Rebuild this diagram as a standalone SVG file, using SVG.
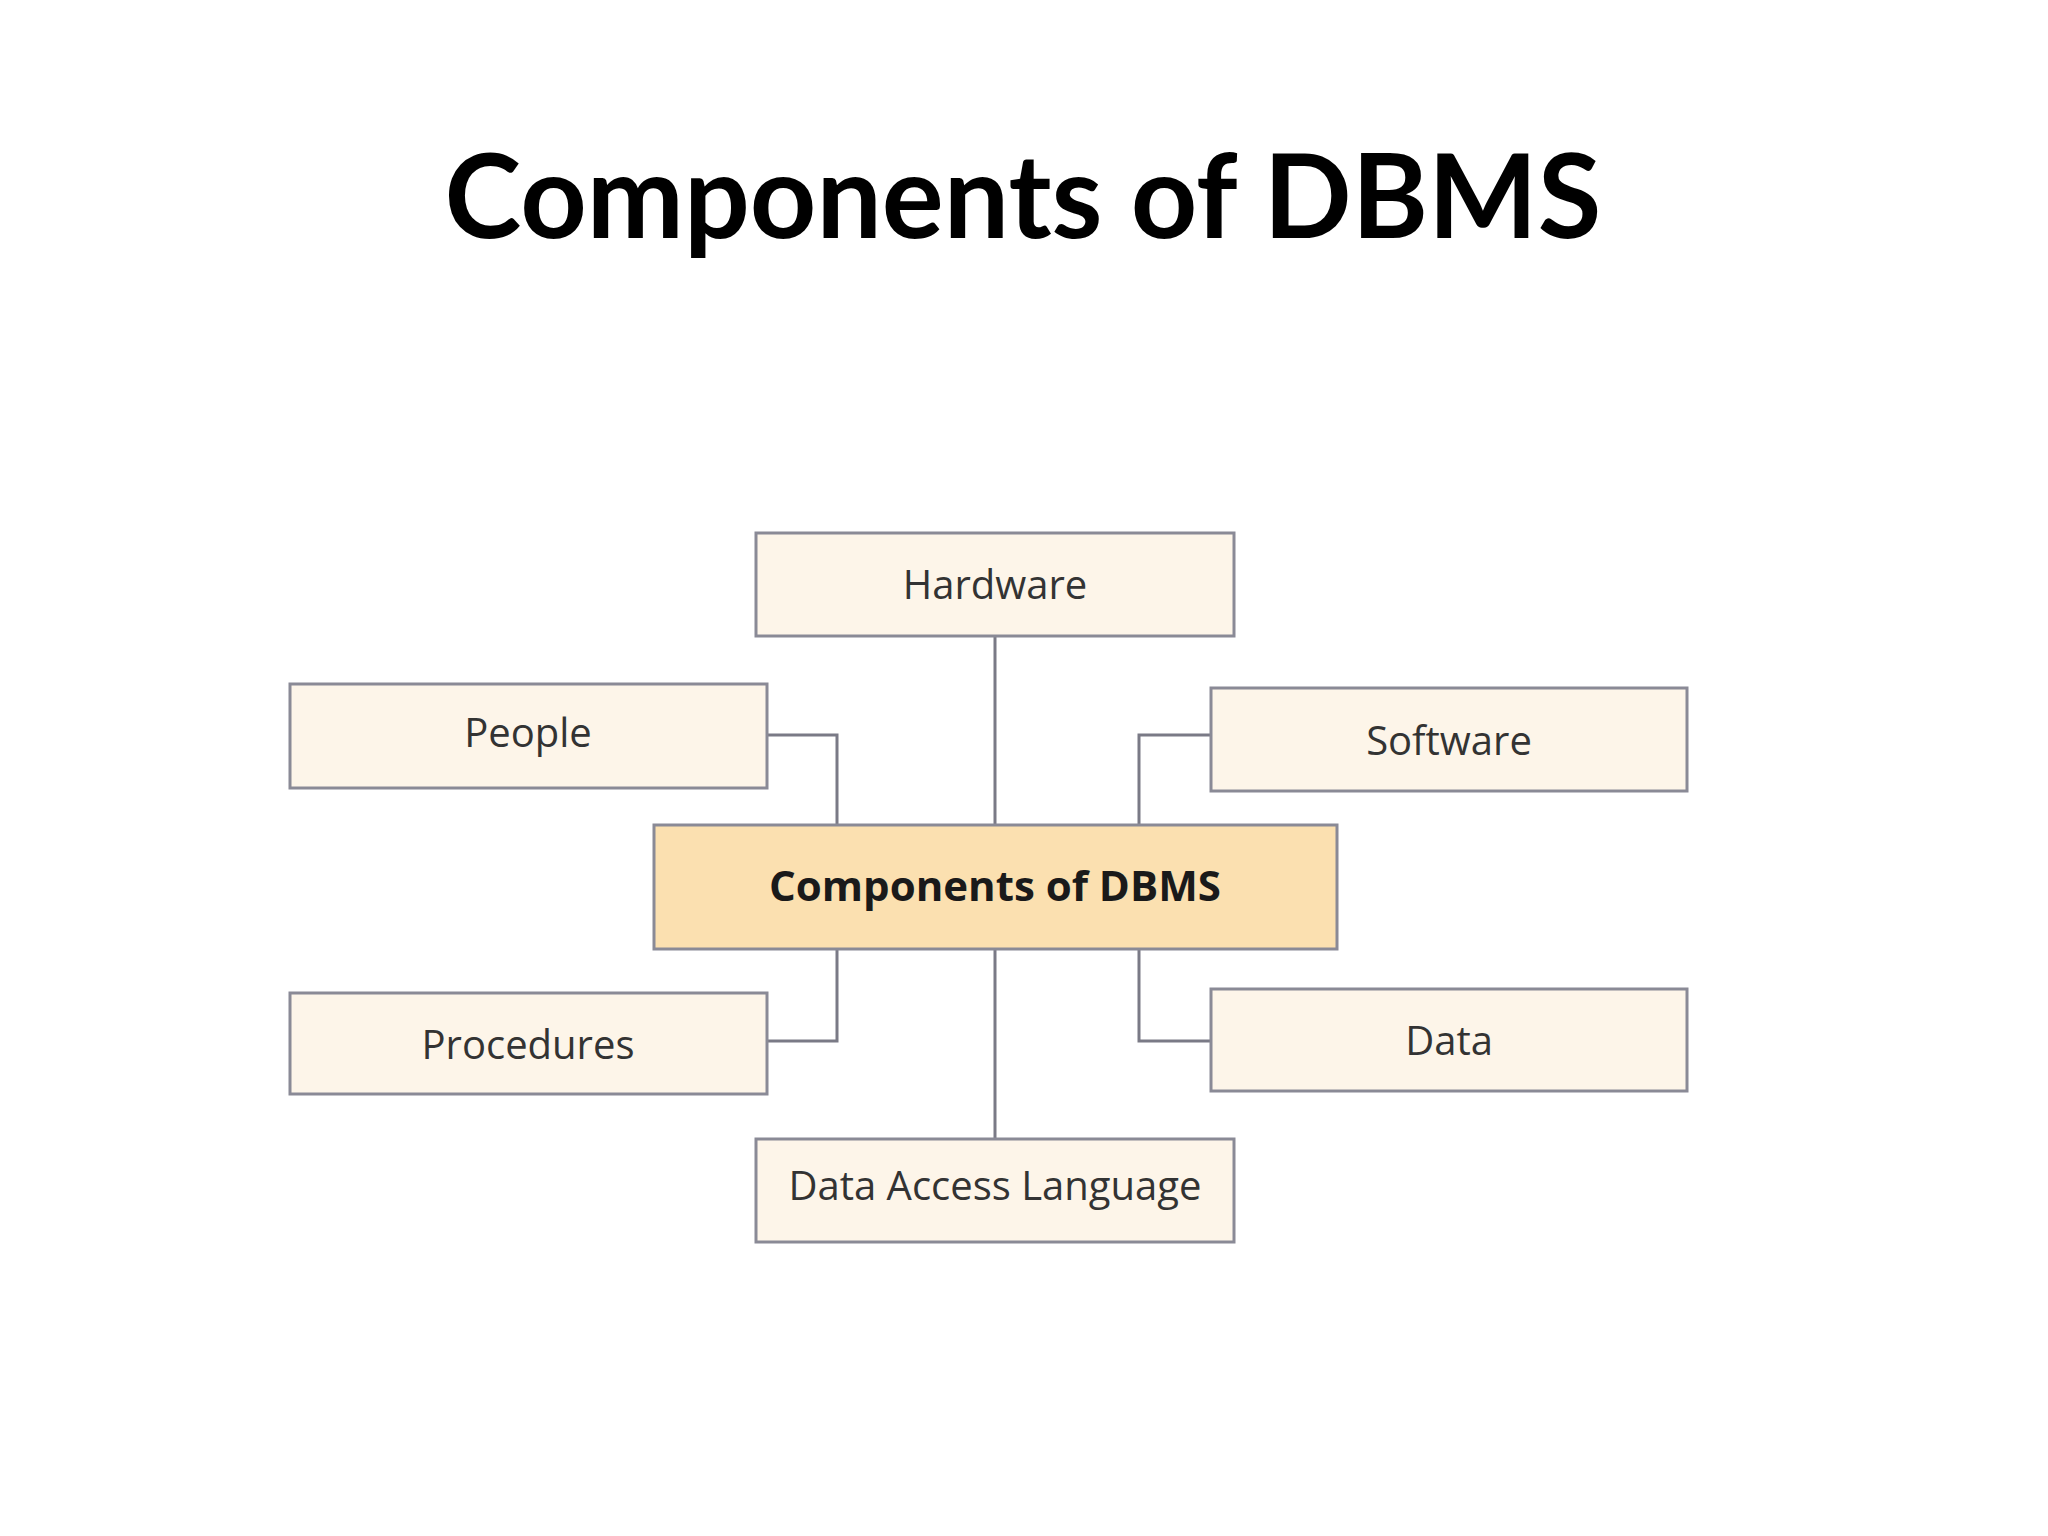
<svg xmlns="http://www.w3.org/2000/svg" width="2048" height="1536" viewBox="0 0 2048 1536">
<style>
.box{fill:#fdf5e9;stroke:#8a8a96;stroke-width:3}
.ctr{fill:#fbe0b0;stroke:#8a8a96;stroke-width:3}
.lbl{font-family:"Open Sans","Liberation Sans",sans-serif;font-size:40px;fill:#333;text-anchor:middle}
.cl{font-family:"Open Sans","Liberation Sans",sans-serif;font-size:42px;font-weight:bold;fill:#1a1a1a;text-anchor:middle}
.con{fill:none;stroke:#7a7a86;stroke-width:3}
</style>
<rect width="2048" height="1536" fill="#fff"/>
<text x="1023" y="238" font-family="Lato,'Liberation Sans',sans-serif" font-weight="bold" font-size="116" text-anchor="middle">Components of DBMS</text>
<g id="connectors">
<path class="con" d="M995 636V825M995 949V1139M767 735H837V825M1211 735H1139V825M837 949V1041H767M1139 949V1041H1211"/>
</g>
<g id="center"><rect class="ctr" x="654" y="825" width="683" height="124"/><text class="cl" x="995" y="901">Components of DBMS</text></g>
<g id="hardware"><rect class="box" x="756" y="533" width="478" height="103"/><text class="lbl" x="995" y="599">Hardware</text></g>
<g id="people"><rect class="box" x="290" y="684" width="477" height="104"/><text class="lbl" x="528" y="747">People</text></g>
<g id="software"><rect class="box" x="1211" y="688" width="476" height="103"/><text class="lbl" x="1449" y="755">Software</text></g>
<g id="procedures"><rect class="box" x="290" y="993" width="477" height="101"/><text class="lbl" x="528" y="1059">Procedures</text></g>
<g id="data"><rect class="box" x="1211" y="989" width="476" height="102"/><text class="lbl" x="1449" y="1055">Data</text></g>
<g id="dal"><rect class="box" x="756" y="1139" width="478" height="103"/><text class="lbl" x="995" y="1200">Data Access Language</text></g>
</svg>
